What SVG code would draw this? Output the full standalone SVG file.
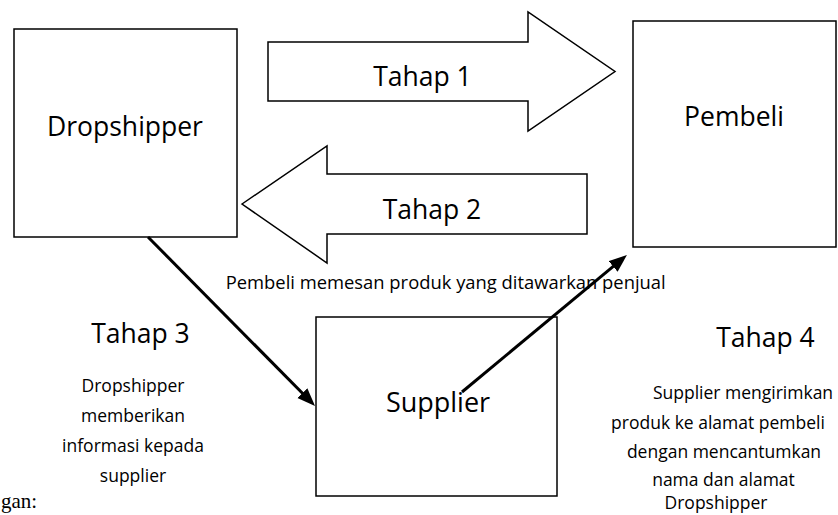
<svg xmlns="http://www.w3.org/2000/svg" width="838" height="515" viewBox="0 0 838 515">
  <style>
    .box { fill: #ffffff; stroke: #000000; stroke-width: 1.5; }
    .big { font-family: "Open Sans", "Noto Sans", sans-serif; font-size: 26.5px; fill: #000000; text-anchor: middle; }
    .small { font-family: "Open Sans", "Noto Sans", sans-serif; font-size: 17.5px; fill: #000000; text-anchor: middle; }
    .conn { stroke: #000000; stroke-width: 3; fill: none; marker-end: url(#head); }
  </style>
  <defs>
    <marker id="head" markerUnits="userSpaceOnUse" markerWidth="20" markerHeight="16" refX="10" refY="7" orient="auto">
      <path d="M0,0 L18,7 L0,14 Z" fill="#000000"/>
    </marker>
  </defs>
  <rect width="838" height="515" fill="#ffffff"/>

  <g id="dropshipper">
    <rect class="box" x="14" y="29" width="223" height="208"/>
    <text class="big" x="125" y="136">Dropshipper</text>
  </g>

  <g id="pembeli">
    <rect class="box" x="633" y="21" width="203" height="226"/>
    <text class="big" x="734" y="126">Pembeli</text>
  </g>

  <g id="supplier">
    <rect class="box" x="316" y="317" width="241" height="179"/>
    <text class="big" x="438" y="412" style="font-size:27px">Supplier</text>
  </g>

  <g id="tahap1">
    <polygon class="box" points="268,42 528,42 528,12 615,71.5 528,131 528,101 268,101"/>
    <text class="big" x="422.5" y="86">Tahap 1</text>
  </g>

  <g id="tahap2">
    <polygon class="box" points="242,204 327,146 327,174 587,174 587,234 327,234 327,263"/>
    <text class="big" x="432" y="219">Tahap 2</text>
  </g>

  <g id="connectors">
    <line class="conn" x1="148" y1="237" x2="309.4" y2="400.3"/>
    <line class="conn" x1="462" y1="392" x2="620.8" y2="260.1"/>
  </g>

  <g id="labels">
    <text class="small" x="225.7" y="289.3" style="text-anchor:start" textLength="440" lengthAdjust="spacingAndGlyphs">Pembeli memesan produk yang ditawarkan penjual</text>

    <text class="big" x="140.5" y="342.5">Tahap 3</text>
    <text class="small" x="133" y="391.7">Dropshipper</text>
    <text class="small" x="133" y="421.7">memberikan</text>
    <text class="small" x="133" y="451.7">informasi kepada</text>
    <text class="small" x="133" y="481.7">supplier</text>

    <text class="big" x="765.5" y="346.7">Tahap 4</text>
    <text class="small" x="743" y="399">Supplier mengirimkan</text>
    <text class="small" x="718" y="428.5">produk ke alamat pembeli</text>
    <text class="small" x="724" y="457.5">dengan mencantumkan</text>
    <text class="small" x="723.5" y="485.5">nama dan alamat</text>
    <text class="small" x="716" y="509">Dropshipper</text>

    <text x="1" y="508" style="font-family:'Liberation Serif', serif; font-size:21px; fill:#000000">gan:</text>
  </g>
</svg>
